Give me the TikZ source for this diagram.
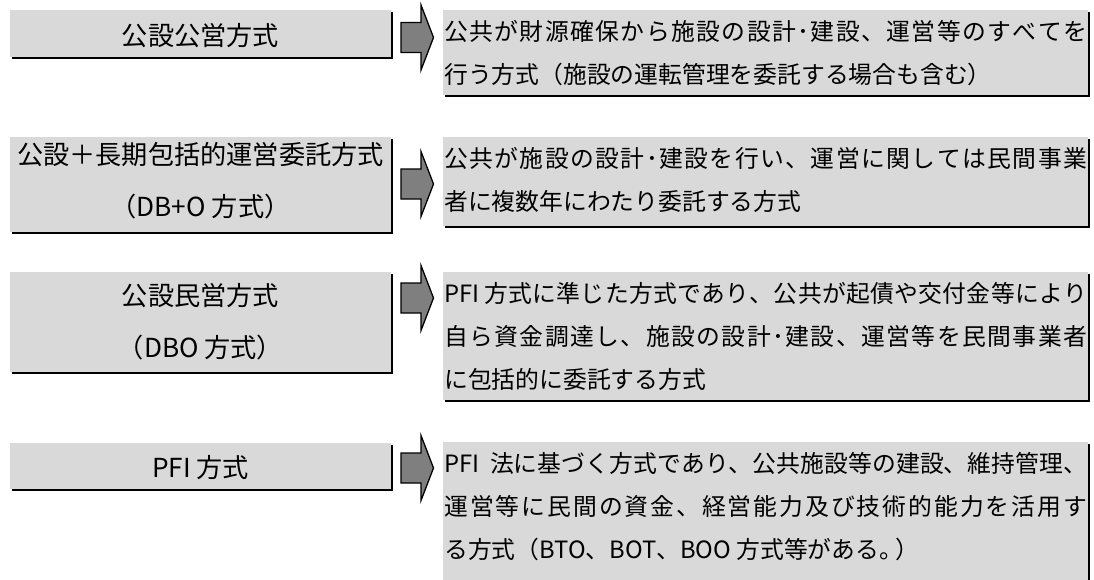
\documentclass[tikz,border=0pt]{standalone}
\usepackage{graphicx}
\usepackage{fontspec}
\setmainfont{Noto Sans CJK JP}
\usetikzlibrary{shadows,calc}
\definecolor{boxgray}{HTML}{D9D9D9}
\definecolor{arrowgray}{HTML}{7F7F7F}
\makeatletter
\newcommand\jfull[1]{\makebox[643pt][s]{\@tfor\jch:=#1\do{\jch\hskip 0pt plus 1fil}\unskip}}
\makeatother
\newcommand\blockarr[1]{\draw[blockarrow] ($(#1)+(0,-15)$) -- ++(20,0) -- ++(0,-17.5) -- ($(#1)+(32.5,0)$) -- ($(#1)+(20,32.5)$) -- ++(0,-17.5) -- ($(#1)+(0,15)$) -- cycle;}
\tikzset{
  panel/.style={fill=boxgray, draw=none, inner sep=0pt, anchor=north west,
    drop shadow={shadow xshift=2.2pt, shadow yshift=-2.2pt, fill=black, opacity=1}},
  ltext/.style={inner sep=0pt, anchor=base, font=\fontsize{26.2}{30}\selectfont},
  rtext/.style={inner sep=0pt, anchor=base west, font=\fontsize{23.8}{30}\selectfont},
  blockarrow/.style={fill=arrowgray, draw=black, line width=1.3pt, line join=miter}
}
\begin{document}
\begin{tikzpicture}[x=1pt,y=-1pt]
\useasboundingbox (0,0) rectangle (1094,579);
\clip (0,0) rectangle (1094,579);
% left panels
\node[panel, minimum width=381pt, minimum height=47pt] (L1) at (10,10) {};
\node[panel, minimum width=381pt, minimum height=95pt] (L2) at (10,137) {};
\node[panel, minimum width=381pt, minimum height=100pt] (L3) at (10,272) {};
\node[panel, minimum width=381pt, minimum height=46pt] (L4) at (10,443) {};
% right panels
\node[panel, minimum width=645pt, minimum height=85pt] (R1) at (443,10) {};
\node[panel, minimum width=645pt, minimum height=89pt] (R2) at (443,137) {};
\node[panel, minimum width=645pt, minimum height=128pt] (R3) at (443,272) {};
\node[panel, minimum width=645pt, minimum height=160pt] (R4) at (443,442) {};
% left texts
\node[ltext] (l1a) at (200.5,45.5) {公設公営方式};
\node[ltext] (l2a) at (200.5,164.5) {公設＋長期包括的運営委託方式};
\node[ltext] (l2b) at (200.5,216.5) {（DB+O 方式）};
\node[ltext] (l3a) at (200.5,305.5) {公設民営方式};
\node[ltext] (l3b) at (200.5,357.5) {（DBO 方式）};
\node[ltext] (l4a) at (200.5,477.5) {PFI 方式};
% right texts
\node[rtext] (r1a) at (444,40.5) {\jfull{公共が財源確保から施設の設計･建設、運営等のすべてを}};
\node[rtext] (r1b) at (444,83.5) {行う方式（施設の運転管理を委託する場合も含む）};
\node[rtext] (r2a) at (444,167) {\jfull{公共が施設の設計･建設を行い、運営に関しては民間事業}};
\node[rtext] (r2b) at (444,210) {者に複数年にわたり委託する方式};
\node[rtext] (r3a) at (444,302.5) {\jfull{{PFI 方式}に準じた方式であり、公共が起債や交付金等により}};
\node[rtext] (r3b) at (444,345.5) {\jfull{自ら資金調達し、施設の設計･建設、運営等を民間事業者}};
\node[rtext] (r3c) at (444,388.5) {に包括的に委託する方式};
\node[rtext] (r4a) at (444,472.5) {\jfull{{PFI\ \ 法}に基づく方式であり、公共施設等の建設、維持管理、}};
\node[rtext] (r4b) at (444,515.5) {\jfull{運営等に民間の資金、経営能力及び技術的能力を活用す}};
\node[rtext] (r4c) at (444,558.5) {る方式（BTO、BOT、BOO 方式等がある。\kern-8pt）};
% arrows
\coordinate (A1) at (401,37.5);
\coordinate (A2) at (401,184);
\coordinate (A3) at (401,298);
\coordinate (A4) at (401,468);
\blockarr{A1}
\blockarr{A2}
\blockarr{A3}
\blockarr{A4}
\end{tikzpicture}
\end{document}
